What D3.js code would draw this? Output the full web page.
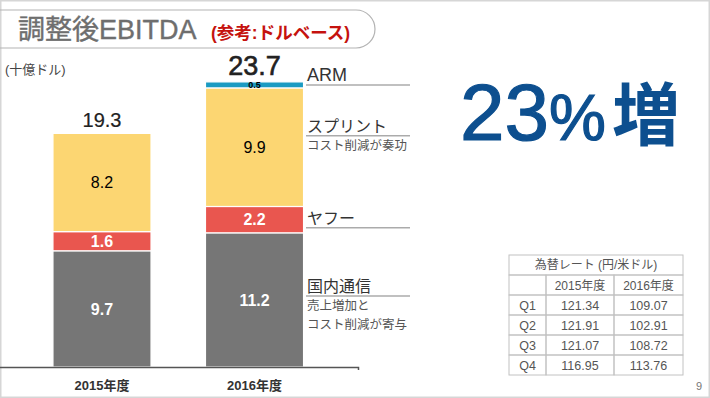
<!DOCTYPE html>
<html>
<head>
<meta charset="utf-8">
<script src="https://cdn.jsdelivr.net/npm/d3@7"></script>
<style>
  html, body { margin: 0; padding: 0; background: #fff; }
  svg { display: block; }
  text { font-family: "Liberation Sans", "Noto Sans CJK JP", sans-serif; }
</style>
</head>
<body>
<div id="chart"></div>
<script>
// data
const years = ['2015年度', '2016年度'];
const segments = ['国内通信', 'ヤフー', 'スプリント', 'ARM'];
const domestic = [9.7, 11.2];
const yahoo = [1.6, 2.2];
const sprint = [8.2, 9.9];
const arm = [0, 0.5];
const totals = ['19.3', '23.7'];
const segmentNotes = [['売上増加と', 'コスト削減が寄与'], [], ['コスト削減が奏功'], []];
const rateTitle = '為替レート (円/米ドル)';
const rateHeader = ['', '2015年度', '2016年度'];
const rateQuarters = ['Q1', 'Q2', 'Q3', 'Q4'];
const rate2015 = ['121.34', '121.91', '121.07', '116.95'];
const rate2016 = ['109.07', '102.91', '108.72', '113.76'];

// layout / style
const width = 710, height = 398;
const colors = ['#767676', '#e9564f', '#fcd672', '#1b9bc2'];
const labelShift = [-4, 8, -11.5, 0];

const rows = years.map((yr, i) => ({
  year: yr,
  '国内通信': domestic[i],
  'ヤフー': yahoo[i],
  'スプリント': sprint[i],
  'ARM': arm[i]
}));
const stacked = d3.stack().keys(segments)(rows);

const svg = d3.select('#chart').append('svg')
  .attr('width', width)
  .attr('height', height);

// slide frame
svg.append('rect')
  .attr('x', 0.75).attr('y', 0.75)
  .attr('width', width - 1.5).attr('height', height - 1.5)
  .attr('fill', 'none')
  .attr('stroke', '#d6d6d6')
  .attr('stroke-width', 1.5);

// title pill
svg.append('path')
  .attr('d', 'M-20,10H356A19,19 0 0 1 356,48H-20')
  .attr('fill', 'none')
  .attr('stroke', '#b3b3b3')
  .attr('stroke-width', 1.2);

svg.append('text')
  .attr('x', 18).attr('y', 39)
  .attr('font-size', 27)
  .attr('fill', '#6e6e6e')
  .attr('stroke', '#6e6e6e')
  .attr('stroke-width', 0.4)
  .text('調整後EBITDA');

svg.append('text')
  .attr('x', 211).attr('y', 39)
  .attr('font-size', 17.5)
  .attr('font-weight', 'bold')
  .attr('fill', '#c5120e')
  .text('(参考:ドルベース)');

svg.append('text')
  .attr('x', 5).attr('y', 74)
  .attr('font-size', 13)
  .attr('fill', '#444')
  .text('(十億ドル)');

// scales
const x = d3.scaleBand()
  .domain(years)
  .range([-1.5, 358])
  .padding(0.357);

const y = d3.scaleLinear()
  .domain([0, 24])
  .range([367, 79.5]);

// bars
const layers = svg.append('g')
  .selectAll('g')
  .data(stacked)
  .enter()
  .append('g')
  .attr('fill', (d, i) => colors[i]);

layers.selectAll('rect')
  .data(d => d.filter(v => v[1] - v[0] > 0))
  .enter()
  .append('rect')
  .attr('x', d => x(d.data.year))
  .attr('y', d => y(d[1]))
  .attr('width', x.bandwidth())
  .attr('height', d => y(d[0]) - y(d[1]))
  .attr('stroke', '#fff')
  .attr('stroke-width', 1.2);

// segment values
stacked.forEach((layer, k) => {
  svg.append('g')
    .selectAll('text')
    .data(layer.filter(v => v[1] - v[0] > 0))
    .enter()
    .append('text')
    .attr('x', d => x(d.data.year) + x.bandwidth() / 2)
    .attr('y', d => (y(d[0]) + y(d[1])) / 2)
    .attr('dy', '0.36em')
    .attr('text-anchor', 'middle')
    .attr('font-size', k === 3 ? 9 : 16)
    .attr('font-weight', k === 2 ? 'normal' : 'bold')
    .attr('fill', k >= 2 ? '#000' : '#fff')
    .text(d => d3.format('.1f')(d.data[layer.key]));
});

// totals
const topLayer = stacked[stacked.length - 1];
svg.append('g')
  .selectAll('text')
  .data(topLayer)
  .enter()
  .append('text')
  .attr('x', d => x(d.data.year) + x.bandwidth() / 2)
  .attr('y', d => y(d[1]) - 6.5)
  .attr('text-anchor', 'middle')
  .attr('font-size', (d, i) => i === topLayer.length - 1 ? 27 : 20)
  .attr('fill', '#222')
  .attr('stroke', '#222')
  .attr('stroke-width', (d, i) => i === topLayer.length - 1 ? 0.6 : 0.2)
  .text((d, i) => totals[i]);

// axis
const axis = svg.append('g')
  .attr('transform', 'translate(0,367)')
  .call(d3.axisBottom(x).tickSizeInner(0).tickSizeOuter(3).tickPadding(14));
axis.select('.domain')
  .attr('stroke', '#555')
  .attr('stroke-width', 1.5);
axis.selectAll('.tick text')
  .attr('font-size', 13)
  .attr('font-weight', 'bold')
  .attr('fill', '#333')
  .attr('font-family', '"Liberation Sans", "Noto Sans CJK JP", sans-serif');

// segment names on the right of 2016 bar
const last = years.length - 1;
segments.forEach((name, k) => {
  const seg = stacked[k][last];
  const lineY = (y(seg[0]) + y(seg[1])) / 2 + labelShift[k];
  svg.append('line')
    .attr('x1', 306).attr('x2', 410)
    .attr('y1', lineY).attr('y2', lineY)
    .attr('stroke', '#ababab')
    .attr('stroke-width', 1.5);
  svg.append('text')
    .attr('x', 307).attr('y', lineY - 3.5)
    .attr('font-size', k === 3 ? 18 : 16)
    .attr('fill', '#333')
    .text(name);
  segmentNotes[k].forEach((note, j) => {
    svg.append('text')
      .attr('x', 307).attr('y', lineY + 14.5 + j * 18.6)
      .attr('font-size', 12.5)
      .attr('fill', '#555')
      .text(note);
  });
});

// 23%増
const big = svg.append('text')
  .attr('x', 460).attr('y', 140)
  .attr('fill', '#0d4f8f')
  .attr('stroke', '#0d4f8f')
  .attr('stroke-width', 1.2);
big.append('tspan').attr('font-size', 80).text('23');
big.append('tspan').attr('font-size', 64).text('%');
big.append('tspan')
  .attr('dx', 6)
  .attr('font-size', 68)
  .attr('font-weight', 'bold')
  .attr('stroke-width', 0)
  .attr('font-family', '"Noto Sans CJK JP", sans-serif')
  .text('増');

// exchange rate table
const colX = [509, 546, 614, 683];
const rowH = 20;
const tableTop = 255;
const tableRows = [rateHeader].concat(rateQuarters.map((q, i) => [q, rate2015[i], rate2016[i]]));
const table = svg.append('g');

table.append('rect')
  .attr('x', colX[0]).attr('y', tableTop)
  .attr('width', colX[3] - colX[0]).attr('height', rowH)
  .attr('fill', 'none')
  .attr('stroke', '#c2c2c2');
table.append('text')
  .attr('x', (colX[0] + colX[3]) / 2)
  .attr('y', tableTop + rowH / 2 + 4.3)
  .attr('text-anchor', 'middle')
  .attr('font-size', 12)
  .attr('fill', '#555')
  .text(rateTitle);

tableRows.forEach((row, r) => {
  const ry = tableTop + rowH * (r + 1);
  row.forEach((cell, c) => {
    table.append('rect')
      .attr('x', colX[c]).attr('y', ry)
      .attr('width', colX[c + 1] - colX[c]).attr('height', rowH)
      .attr('fill', 'none')
      .attr('stroke', '#c2c2c2');
    table.append('text')
      .attr('x', (colX[c] + colX[c + 1]) / 2)
      .attr('y', ry + rowH / 2 + 4.5)
      .attr('text-anchor', 'middle')
      .attr('font-size', r === 0 ? 12 : 12.5)
      .attr('fill', '#555')
      .text(cell);
  });
});

// page number
svg.append('text')
  .attr('x', 699).attr('y', 390)
  .attr('text-anchor', 'middle')
  .attr('font-size', 11)
  .attr('fill', '#777')
  .text('9');
</script>
</body>
</html>
